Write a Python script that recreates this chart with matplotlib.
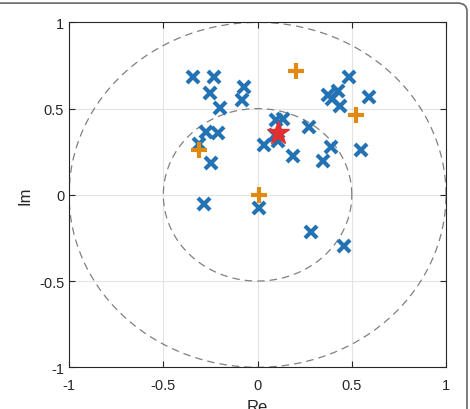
import numpy as np
import matplotlib
matplotlib.use('Agg')
from matplotlib import pyplot as plt
from matplotlib.patches import FancyBboxPatch

plt.rcParams['font.family'] = ['Liberation Sans', 'DejaVu Sans']

# blue x points
blue_re = [-0.345, -0.230, -0.253, -0.200, -0.071, -0.081, -0.271, -0.212, -0.312, -0.248,
           -0.285, 0.007, 0.035, 0.097, 0.133, 0.110, 0.090, 0.186, 0.273, 0.485,
           0.372, 0.393, 0.425, 0.437, 0.591, 0.389, 0.349, 0.549, 0.281, 0.460]
blue_im = [0.681, 0.685, 0.589, 0.502, 0.627, 0.548, 0.367, 0.361, 0.293, 0.183,
           -0.052, -0.075, 0.288, 0.434, 0.438, 0.313, 0.345, 0.226, 0.396, 0.685,
           0.577, 0.554, 0.602, 0.515, 0.568, 0.278, 0.197, 0.259, -0.214, -0.299]
# orange + points
orange_re = [0.202, 0.520, -0.310, 0.007]
orange_im = [0.718, 0.461, 0.261, 0.000]
# red star
star_re = [0.106]
star_im = [0.361]

radii = [1.0, 0.5]

fig = plt.figure(figsize=(4.7, 4.1), dpi=100)
ax = fig.add_axes([0.147, 0.1017, 0.802, 0.8413])

t = np.linspace(0, 2 * np.pi, 400)
for r in radii:
    ax.plot(r * np.cos(t), r * np.sin(t), '--', color='#808080', lw=0.9, dashes=(6, 4))

ax.plot(blue_re, blue_im, 'x', color='#2272B4', ms=8, mew=3, ls='none')
ax.plot(orange_re, orange_im, '+', color='#E08A12', ms=11, mew=3, ls='none')
ax.plot(star_re, star_im, '*', color='#E03030', ms=17, mec='#E03030', ls='none')

ax.set_xlim(-1, 1)
ax.set_ylim(-1, 1)
ax.set_xticks([-1, -0.5, 0, 0.5, 1])
ax.set_yticks([-1, -0.5, 0, 0.5, 1])
ax.set_xticklabels(['-1', '-0.5', '0', '0.5', '1'])
ax.set_yticklabels(['-1', '-0.5', '0', '0.5', '1'])
ax.grid(True, color='#E3E3E3', lw=0.8)
ax.set_axisbelow(True)
ax.tick_params(direction='in', top=True, right=True, labelsize=10.5, length=4, color='#262626', labelcolor='#262626')
ax.tick_params(axis='x', pad=8)
for s in ax.spines.values():
    s.set_color('#262626')
    s.set_linewidth(0.8)
ax.set_xlabel('Re', fontsize=12, color='#262626', labelpad=5)
ax.set_ylabel('Im', fontsize=12, color='#262626', labelpad=5)

# rounded frame, its left and bottom edges fall outside the image
frame = FancyBboxPatch((-0.05, -0.05), 1.0436, 1.040, boxstyle='round,pad=0,rounding_size=0.02',
                       transform=fig.transFigure, fill=False, ec='#666666', lw=1.2)
fig.patches.append(frame)

fig.savefig('out.png', dpi=100)
